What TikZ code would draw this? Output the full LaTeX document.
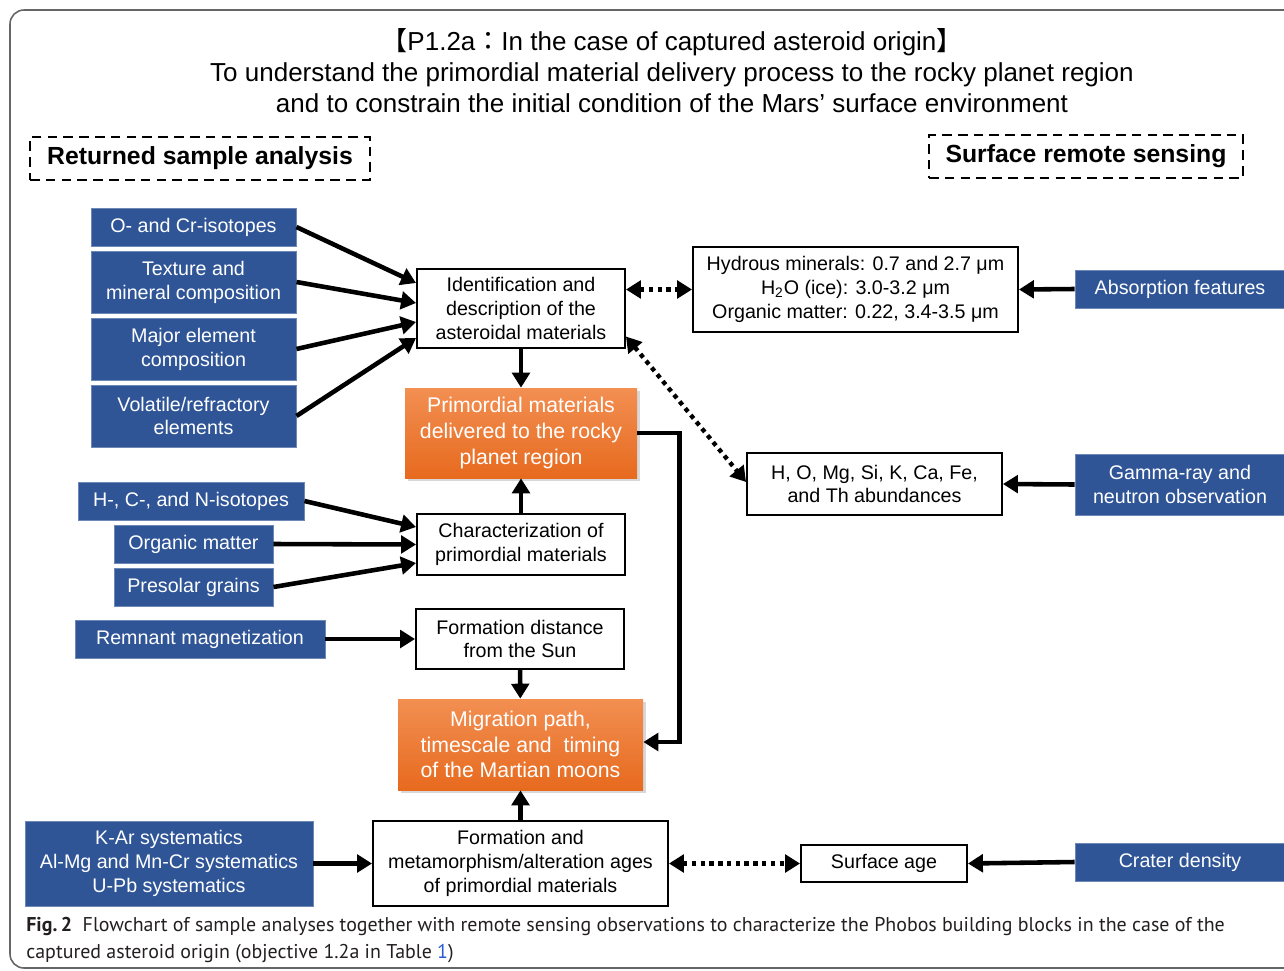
\documentclass[tikz,border=0pt]{standalone}
\usepackage{fontspec}
\setmainfont{Liberation Sans}
\newfontfamily\cjk{Noto Sans CJK JP}
\newfontfamily\capfont{PT Sans}
\usetikzlibrary{arrows.meta,shadows}

\definecolor{sampleblue}{RGB}{47,85,151}
\definecolor{origintop}{RGB}{242,143,82}
\definecolor{originbot}{RGB}{231,106,30}
\definecolor{linkblue}{RGB}{40,90,210}
\definecolor{captext}{RGB}{35,31,32}

\newlength{\px}
\setlength{\px}{0.02cm}

\tikzset{
  whitebox/.style={draw, line width=1.1pt, fill=white, align=center, inner sep=0pt,
    font=\fontsize{11.2}{13.6}\selectfont},
  bluebox/.style={fill=sampleblue, draw=sampleblue!70!white, line width=0.5pt, text=white,
    align=center, inner sep=0pt, font=\fontsize{11.2}{13.6}\selectfont},
  orangebox/.style={top color=origintop, bottom color=originbot, text=white, align=center,
    inner sep=0pt, drop shadow={opacity=0.3, shadow xshift=1.5pt, shadow yshift=-1.5pt},
    font=\fontsize{12.1}{14.7}\selectfont},
  headbox/.style={draw, dash pattern=on 5.5pt off 3.5pt, line width=1.4pt, inner sep=0pt,
    font=\bfseries\fontsize{14.1}{17}\selectfont},
  flowarrow/.style={line width=2.6pt, -{Triangle[length=8.5pt,width=10pt]}},
  dotarrow/.style={line width=2.5pt, dash pattern=on 2.5pt off 2.5pt,
    {Triangle[length=8.5pt,width=10pt]}-{Triangle[length=8.5pt,width=10pt]}},
}

\begin{document}
\begin{tikzpicture}[x=0.02cm, y=-0.02cm]
    \clip (0,0) rectangle (1284,970);
    \fill[white] (0,0) rectangle (1284,970);
    \draw[gray!80!black, line width=0.9pt, rounded corners=8pt] (1300,968) -- (10,968) -- (10,10) -- (1300,10);

    % title and headers
    \node[align=center, font=\fontsize{14.8}{17.6}\selectfont] (title) at (672,71)
      {{\cjk 【}P1.2a{\cjk ：}In the case of captured asteroid origin{\cjk 】}\\
       To understand the primordial material delivery process to the rocky planet region\\
       and to constrain the initial condition of the Mars' surface environment};
    \node[headbox, minimum width=340\px, minimum height=43\px] (returned) at (200,158.5) {\raisebox{-2\px}{Returned sample analysis}};
    \node[headbox, minimum width=314\px, minimum height=43\px] (remote) at (1086,156.5) {\raisebox{-2\px}{Surface remote sensing}};

    % central column
    \node[whitebox, minimum width=208\px, minimum height=79\px] (ident) at (521,308.5)
      {Identification and\\description of the\\asteroidal materials};
    \node[orangebox, minimum width=232\px, minimum height=90\px] (primordial) at (521,433)
      {Primordial materials\\delivered to the rocky\\planet region};
    \node[whitebox, minimum width=208\px, minimum height=61\px] (charact) at (521,544.5)
      {Characterization of\\primordial materials};
    \node[whitebox, minimum width=208\px, minimum height=60\px] (formdist) at (520,639)
      {Formation distance\\from the Sun};
    \node[orangebox, minimum width=245\px, minimum height=91\px] (migration) at (520.5,744.5)
      {Migration path,\\timescale and\ \ timing\\of the Martian moons};
    \node[whitebox, minimum width=295\px, minimum height=85\px] (formage) at (520.5,863.5)
      {Formation and\\metamorphism/alteration ages\\of primordial materials};

    % sample analyses
    \node[bluebox, minimum width=205\px, minimum height=38\px] (ocr) at (193.5,227) {O- and Cr-isotopes};
    \node[bluebox, minimum width=205\px, minimum height=62\px] (texture) at (193.5,282) {Texture and\\mineral composition};
    \node[bluebox, minimum width=205\px, minimum height=62\px] (major) at (193.5,349) {Major element\\composition};
    \node[bluebox, minimum width=205\px, minimum height=62\px] (volatile) at (193.5,416) {Volatile/refractory\\elements};
    \node[bluebox, minimum width=226\px, minimum height=38\px] (hcn) at (191,501) {H-, C-, and N-isotopes};
    \node[bluebox, minimum width=159\px, minimum height=38\px] (organic) at (193.5,544) {Organic matter};
    \node[bluebox, minimum width=159\px, minimum height=38\px] (presolar) at (193.5,587) {Presolar grains};
    \node[bluebox, minimum width=250\px, minimum height=38\px] (remnant) at (200,639) {Remnant magnetization};
    \node[bluebox, minimum width=288\px, minimum height=85\px] (kar) at (169,863.5)
      {K-Ar systematics\\Al-Mg and Mn-Cr systematics\\U-Pb systematics};

    % remote sensing
    \node[whitebox, minimum width=325\px, minimum height=85\px] (hydrous) at (855.5,289.5)
      {Hydrous minerals: 0.7 and 2.7 μm\\H\textsubscript{2}O (ice): 3.0-3.2 μm\\Organic matter: 0.22, 3.4-3.5 μm};
    \node[whitebox, minimum width=255\px, minimum height=62\px] (elements) at (874.5,484)
      {H, O, Mg, Si, K, Ca, Fe,\\and Th abundances};
    \node[whitebox, minimum width=166\px, minimum height=37\px] (surfage) at (884,863.5) {Surface age};
    \node[bluebox, minimum width=210\px, minimum height=38\px] (absorb) at (1180,289) {Absorption features};
    \node[bluebox, minimum width=210\px, minimum height=61\px] (gamma) at (1180,484.5) {Gamma-ray and\\neutron observation};
    \node[bluebox, minimum width=210\px, minimum height=38\px] (crater) at (1180,862) {Crater density};

    % connectors
    \draw[flowarrow] (ocr.east) -- ([yshift=25.5\px]ident.west);
    \draw[flowarrow] (texture.east) -- ([yshift=5.5\px]ident.west);
    \draw[flowarrow] (major.east) -- ([yshift=-13.5\px]ident.west);
    \draw[flowarrow] (volatile.east) -- ([yshift=-29.5\px]ident.west);
    \draw[flowarrow] (ident) -- (primordial);
    \draw[flowarrow] (charact) -- (primordial);
    \draw[flowarrow] (hcn.east) -- ([yshift=17.5\px]charact.west);
    \draw[flowarrow] (organic.east) -- (charact.west);
    \draw[flowarrow] (presolar.east) -- ([yshift=-18.5\px]charact.west);
    \draw[flowarrow] (remnant.east) -- (formdist.west);
    \draw[flowarrow] (formdist) -- (migration);
    \draw[flowarrow] (formage) -- (migration);
    \draw[flowarrow] (kar.east) -- (formage.west);
    \draw[flowarrow] (primordial.east) -- ++(42,0) |- ([yshift=2.5\px]migration.east);
    \draw[flowarrow] (absorb.west) -- (hydrous.east);
    \draw[flowarrow] (gamma.west) -- (elements.east);
    \draw[flowarrow] (crater.west) -- (surfage.east);
    \draw[dotarrow] (ident.east |- hydrous.west) -- (hydrous.west);
    \draw[dotarrow] ([yshift=-28\px]ident.east) -- ([yshift=2\px]elements.west);
    \draw[dotarrow] (formage.east) -- (surfage.west);

    % caption
    \node[anchor=base west, inner sep=0pt, text=captext, font=\capfont\fontsize{11.35}{14.7}\selectfont] (cap1) at (26,931)
      {\textbf{Fig.\,2}\ \ Flowchart of sample analyses together with remote sensing observations to characterize the Phobos building blocks in the case of the};
    \node[anchor=base west, inner sep=0pt, text=captext, font=\capfont\fontsize{11.35}{14.7}\selectfont] (cap2) at (26,958)
      {captured asteroid origin (objective 1.2a in Table \textcolor{linkblue}{1})};
\end{tikzpicture}
\end{document}
